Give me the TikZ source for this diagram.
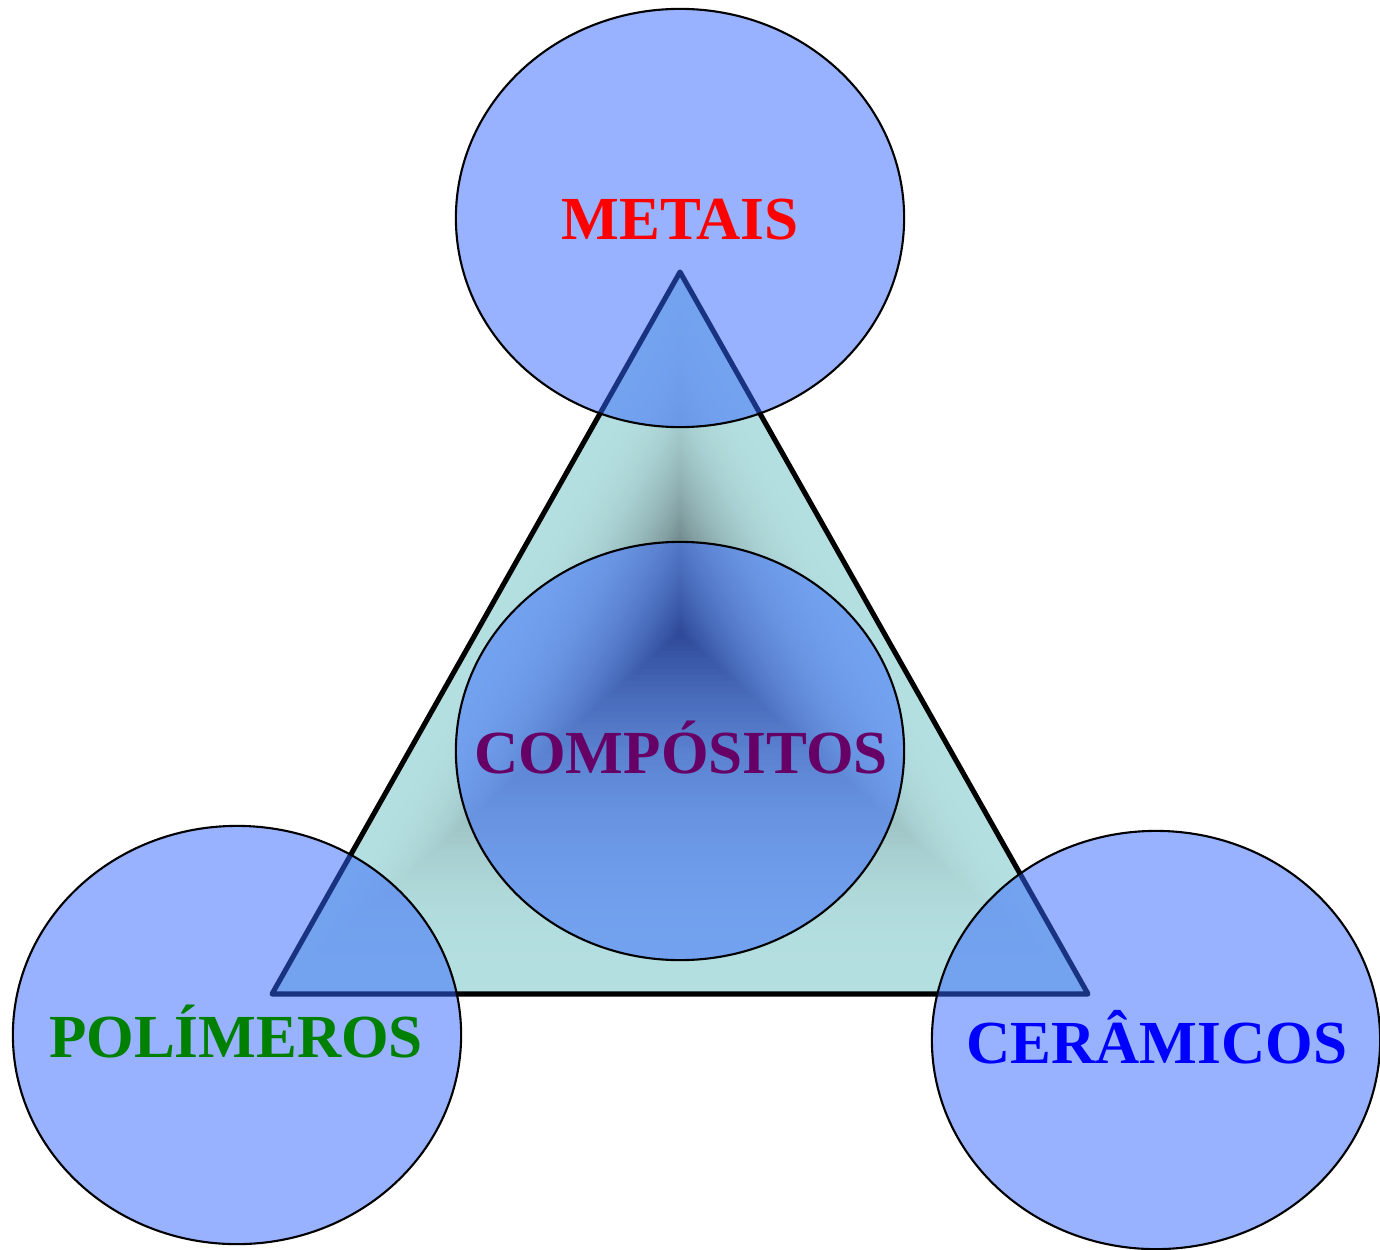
\documentclass[tikz,border=0pt]{standalone}
\usepackage{fontspec}
\setmainfont{Liberation Serif}
\usepackage{tikz}
\usetikzlibrary{positioning, calc, shapes.geometric}
\usepackage{xcolor}
\definecolor{trilight}{RGB}{180,223,224}
\definecolor{tridark}{RGB}{38,40,46}
\definecolor{ellblue}{RGB}{51,102,255}
\definecolor{compviolet}{RGB}{102,0,102}
\definecolor{polgreen}{RGB}{0,128,0}

\begin{document}
\begin{tikzpicture}[x=0.01cm, y=-0.01cm,
    material/.style={ellipse, draw=black, line width=0.6pt, fill=ellblue, fill opacity=0.5,
        minimum width=4.48cm, minimum height=4.18cm, inner sep=0pt, outer sep=0pt},
    lbl/.style={font=\fontsize{17.4}{20}\selectfont\bfseries, anchor=base, inner sep=0pt}]
    \useasboundingbox (0,0) rectangle (1380,1249);
    % Triangle corners and centre of the gradient
    \coordinate (top) at (680,272);
    \coordinate (left) at (272,994);
    \coordinate (right) at (1088,994);
    \coordinate (mid) at (680,633);

    % Triangle (gradient from edges to centre)
    \fill[trilight] (top) -- (left) -- (right) -- cycle;
    \foreach \i in {1,...,60}{
        \pgfmathsetmacro\s{1-\i/60}
        \pgfmathsetmacro\p{100-100*(\i/60)^2.5}
        \fill[trilight!\p!tridark] ($(mid)!\s!(top)$) -- ($(mid)!\s!(left)$) -- ($(mid)!\s!(right)$) -- cycle;
    }
    \draw[line width=1.45pt, line join=round] (top) -- (left) -- (right) -- cycle;

    % Ellipses
    \node[material] (metais) at (680,218) {};
    \node[material] (compositos) at (680,751) {};
    \node[material] (polimeros) at (237,1035) {};
    \node[material] (ceramicos) at (1156,1040) {};

    % Labels
    \node[lbl, red] (tmetais) at (680,240) {METAIS};
    \node[lbl, compviolet] (tcompositos) at (681,773) {COMPÓSITOS};
    \node[lbl, polgreen] (tpolimeros) at (236,1057) {POLÍMEROS};
    \node[lbl, blue] (tceramicos) at (1157,1063) {CERÂMICOS};
\end{tikzpicture}
\end{document}
